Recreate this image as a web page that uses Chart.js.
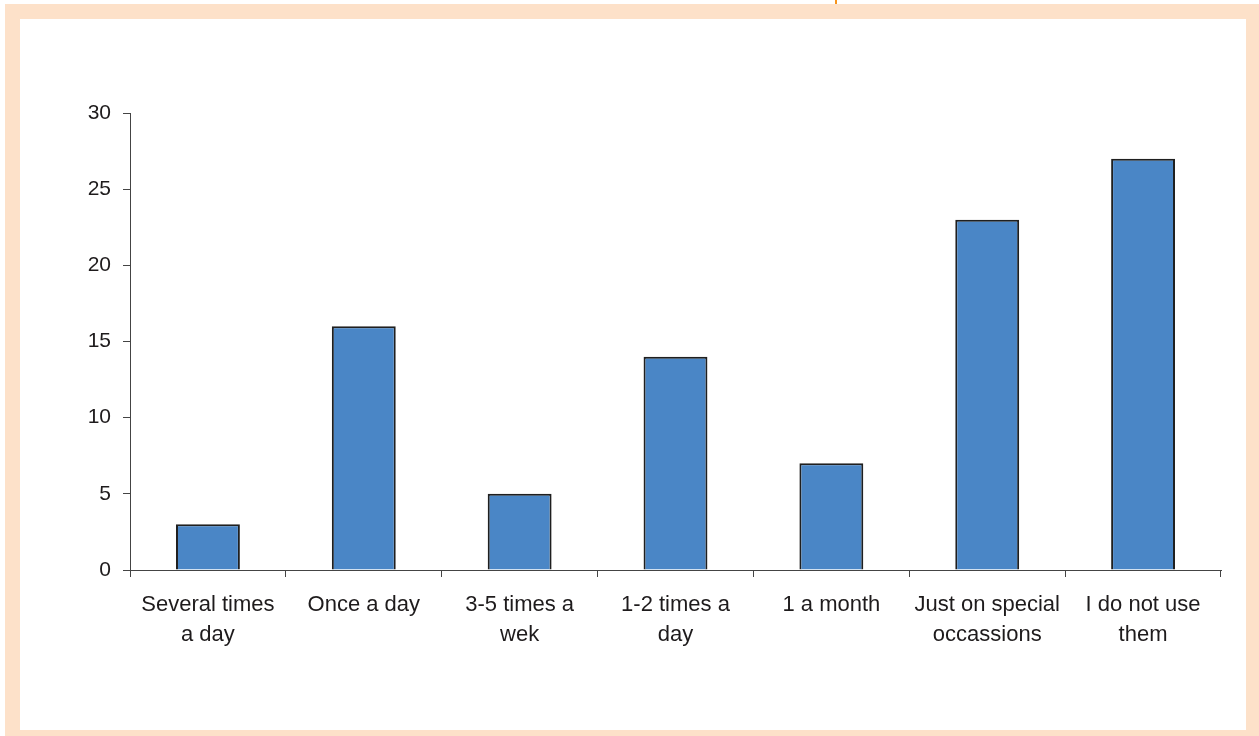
<!DOCTYPE html>
<html>
<head>
<meta charset="utf-8">
<script src="https://cdn.jsdelivr.net/npm/chart.js@4"></script>
<style>
  html, body { margin: 0; padding: 0; background: #ffffff; }
  #wrap { width: 1259px; height: 736px; }
</style>
</head>
<body>
<div id="wrap"><canvas id="c" width="1259" height="736"></canvas></div>
<script>
// Usage frequency categories (two-line labels) and counts
const categories = [
  ['Several times', 'a day'],
  ['Once a day'],
  ['3-5 times a', 'wek'],
  ['1-2 times a', 'day'],
  ['1 a month'],
  ['Just on special', 'occassions'],
  ['I do not use', 'them']
];
const counts = [3, 16, 5, 14, 7, 23, 27];
const yTicks = [0, 5, 10, 15, 20, 25, 30];

const TEXT = '#1e1b1c';
const AXIS = '#444444';

// Peach frame around the white panel, plus the small orange marker on top
const framePlugin = {
  id: 'frame',
  beforeDraw(chart) {
    const ctx = chart.ctx;
    ctx.save();
    ctx.fillStyle = '#ffffff';
    ctx.fillRect(0, 0, chart.width, chart.height);
    ctx.fillStyle = '#fde1c9';
    ctx.fillRect(5, 4, chart.width - 5, chart.height - 4);
    ctx.fillStyle = '#ffffff';
    ctx.fillRect(20, 19, 1226, 711);
    ctx.fillStyle = '#f7941d';
    ctx.fillRect(835, 0, 2, 4);
    ctx.restore();
  }
};

new Chart(document.getElementById('c'), {
  type: 'bar',
  data: {
    labels: categories,
    datasets: [{
      data: counts,
      backgroundColor: '#4a86c6',
      borderColor: '#1f1f1f',
      borderWidth: 2,
      categoryPercentage: 1.0,
      barPercentage: 0.41
    }]
  },
  options: {
    responsive: false,
    animation: false,
    devicePixelRatio: 1,
    layout: { padding: { top: 113, right: 38, left: 0, bottom: 0 } },
    plugins: {
      legend: { display: false },
      tooltip: { enabled: false }
    },
    scales: {
      x: {
        offset: true,
        grid: {
          offset: true,
          drawOnChartArea: false,
          drawTicks: true,
          tickLength: 7,
          color: AXIS,
          lineWidth: 1
        },
        border: { display: true, color: AXIS, width: 1 },
        ticks: {
          maxRotation: 0,
          minRotation: 0,
          autoSkip: false,
          padding: 13,
          color: TEXT,
          font: { family: 'Liberation Sans, Arial, sans-serif', size: 22, lineHeight: 1.36 }
        },
        afterFit(scale) { scale.height = 166; }
      },
      y: {
        min: 0,
        max: 30,
        afterBuildTicks(scale) { scale.ticks = yTicks.map(v => ({ value: v })); },
        grid: {
          drawOnChartArea: false,
          drawTicks: true,
          tickLength: 7,
          color: AXIS,
          lineWidth: 1
        },
        border: { display: true, color: AXIS, width: 1 },
        ticks: {
          padding: 12,
          color: TEXT,
          font: { family: 'Liberation Sans, Arial, sans-serif', size: 21 }
        },
        afterFit(scale) { scale.width = 130; }
      }
    }
  },
  plugins: [framePlugin]
});
</script>
</body>
</html>
